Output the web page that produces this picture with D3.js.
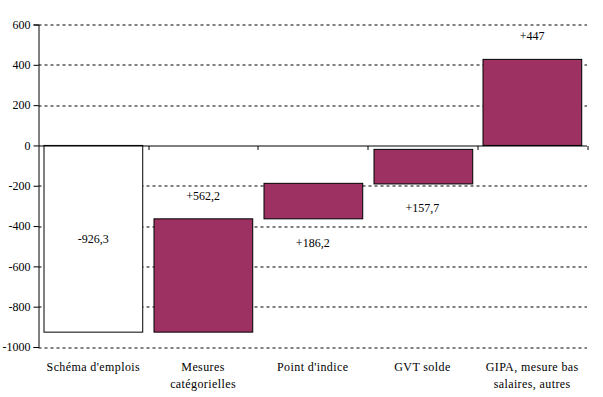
<!DOCTYPE html>
<html>
<head>
<meta charset="utf-8">
<script src="https://cdn.jsdelivr.net/npm/d3@7"></script>
<style>
  body { margin: 0; background: #fff; }
  svg text { font-family: "Liberation Serif", "Times New Roman", "DejaVu Serif", serif !important; font-size: 12px; fill: #000; }
  .cat text { letter-spacing: 0.4px; }
</style>
</head>
<body>
<div id="chart"></div>
<script>
// categories, values and labels
const categories = ['Schéma d\'emplois', 'Mesures\ncatégorielles', 'Point d\'indice', 'GVT solde', 'GIPA, mesure bas\nsalaires, autres'];
const barBottoms = [-926.3, -926.3, -364.1, -191, 0];
const barTops = [0, -364.1, -188, -19.5, 427];
const valueLabels = ['-926,3', '+562,2', '+186,2', '+157,7', '+447'];
const labelSide = ['middle', 'above', 'below', 'below', 'above'];
const yTicks = [600, 400, 200, 0, -200, -400, -600, -800, -1000];

const width = 603;
const height = 397;
const margin = { top: 24.5, right: 16, bottom: 50, left: 38.5 };
const w = width - margin.left - margin.right;
const h = height - margin.top - margin.bottom;

const svg = d3.select('#chart')
  .append('svg')
  .attr('width', width)
  .attr('height', height)
  .append('g')
  .attr('transform', `translate(${margin.left}, ${margin.top})`);

const xScale = d3.scaleBand()
  .domain(categories)
  .range([0, w])
  .paddingInner(0.1)
  .paddingOuter(0.05);

const yScale = d3.scaleLinear()
  .domain([-1000, 600])
  .range([h, 0]);

// dashed gridlines
svg.append('g')
  .selectAll('line')
  .data(yTicks.filter((d) => d !== 0))
  .join('line')
  .attr('x1', 0)
  .attr('x2', w)
  .attr('y1', (d) => Math.round(yScale(d)) + 0.5)
  .attr('y2', (d) => Math.round(yScale(d)) + 0.5)
  .attr('stroke', '#000')
  .attr('stroke-dasharray', '3,3');

// bars
const colors = ['#fff', '#9c3162', '#9c3162', '#9c3162', '#9c3162'];
svg.append('g')
  .selectAll('rect')
  .data(categories)
  .join('rect')
  .attr('x', (d) => Math.round(xScale(d)) + 0.5)
  .attr('width', xScale.bandwidth())
  .attr('y', (d, i) => yScale(barTops[i]))
  .attr('height', (d, i) => yScale(barBottoms[i]) - yScale(barTops[i]))
  .attr('fill', (d, i) => colors[i])
  .attr('stroke', '#000')
  .attr('stroke-width', 1);

// y axis
const yAxis = d3.axisLeft(yScale).tickValues(yTicks).tickSize(5).tickPadding(3)
  .tickFormat((d) => d);
const yg = svg.append('g').call(yAxis).attr('font-family', null).attr('font-size', null);
yg.select('.domain').attr('stroke', '#000');

// x axis at zero
const zeroY = Math.round(yScale(0)) + 0.5;
svg.append('line')
  .attr('x1', 0).attr('x2', w)
  .attr('y1', zeroY).attr('y2', zeroY)
  .attr('stroke', '#000');
svg.append('g')
  .selectAll('line')
  .data(categories)
  .join('line')
  .attr('x1', (d) => Math.round(xScale(d) + xScale.step() * 0.95) + 0.5)
  .attr('x2', (d) => Math.round(xScale(d) + xScale.step() * 0.95) + 0.5)
  .attr('y1', zeroY)
  .attr('y2', zeroY + 4)
  .attr('stroke', '#000');

// value labels
svg.append('g')
  .selectAll('text')
  .data(categories)
  .join('text')
  .attr('x', (d) => xScale(d) + xScale.bandwidth() / 2)
  .attr('y', (d, i) => {
    if (labelSide[i] === 'middle') return yScale((barTops[i] + barBottoms[i]) / 2) + 4;
    if (labelSide[i] === 'above') return yScale(barTops[i]) - 19;
    return yScale(barBottoms[i]) + 28;
  })
  .attr('text-anchor', 'middle')
  .text((d, i) => valueLabels[i]);

// category labels
const cat = svg.append('g')
  .attr('class', 'cat')
  .selectAll('text')
  .data(categories)
  .join('text')
  .attr('x', (d) => xScale(d) + xScale.bandwidth() / 2)
  .attr('y', h + 24)
  .attr('text-anchor', 'middle');
cat.selectAll('tspan')
  .data((d) => d.split('\n').map((t) => ({ t, x: xScale(d) + xScale.bandwidth() / 2 })))
  .join('tspan')
  .attr('x', (d) => d.x)
  .attr('dy', (d, i) => (i === 0 ? 0 : 16.7))
  .text((d) => d.t);
</script>
</body>
</html>
